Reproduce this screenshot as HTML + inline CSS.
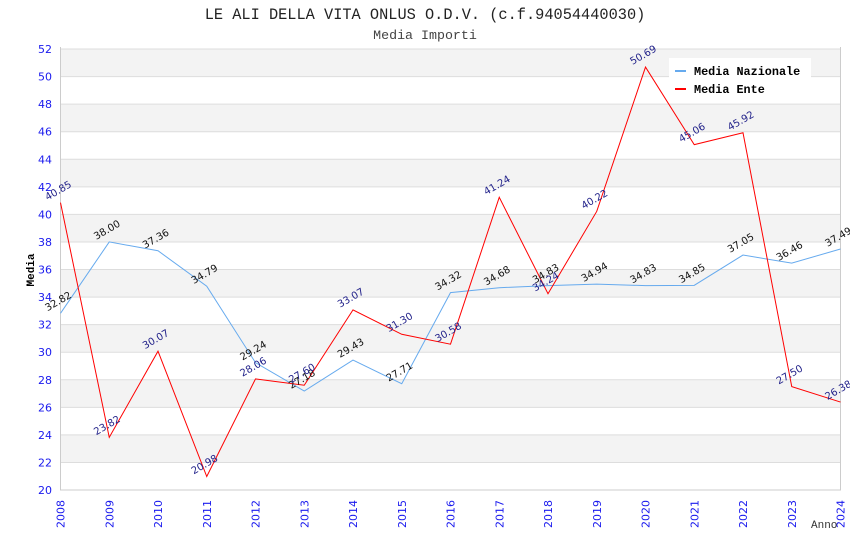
<!DOCTYPE html>
<html><head><meta charset="utf-8"><style>
body{margin:0;background:#fff;}
svg{display:block;}
</style></head><body>
<svg id="chart" width="850" height="550" xmlns="http://www.w3.org/2000/svg">
<text x="425" y="19" text-anchor="middle" font-family="Liberation Mono, monospace" font-size="15.3" fill="#222">LE ALI DELLA VITA ONLUS O.D.V. (c.f.94054440030)</text>
<text x="425" y="39" text-anchor="middle" font-family="Liberation Mono, monospace" font-size="13.3" fill="#444">Media Importi</text>
<g id="bands"></g><g id="grid"></g><g id="axes"></g><g id="series"></g><g id="labels"></g>
<text transform="translate(34,270) rotate(-90)" text-anchor="middle" font-family="Liberation Mono, monospace" font-weight="bold" font-size="11" fill="#000">Media</text>
<text x="811" y="528" font-family="Liberation Mono, monospace" font-size="11" fill="#333">Anno</text>
<g>
<rect x="669" y="58" width="142" height="42" fill="#fff"/>
<rect x="675" y="70" width="11" height="2" fill="#66aaee"/>
<text x="694" y="75" font-family="Liberation Mono, monospace" font-weight="bold" font-size="11.8" fill="#000">Media Nazionale</text>
<rect x="675" y="88" width="11" height="2" fill="#ff0000"/>
<text x="694" y="93" font-family="Liberation Mono, monospace" font-weight="bold" font-size="11.8" fill="#000">Media Ente</text>
</g>
</svg>
<script>
const years = [2008,2009,2010,2011,2012,2013,2014,2015,2016,2017,2018,2019,2020,2021,2022,2023,2024];
const nazionale = [32.82,38.00,37.36,34.79,29.24,27.18,29.43,27.71,34.32,34.68,34.83,34.94,34.83,34.85,37.05,36.46,37.49];
const ente = [40.85,23.82,30.07,20.98,28.06,27.60,33.07,31.30,30.58,41.24,34.24,40.22,50.69,45.06,45.92,27.50,26.38];
const yTicks = [20,22,24,26,28,30,32,34,36,38,40,42,44,46,48,50,52];
const NS='http://www.w3.org/2000/svg';
const L=60.5,R=840.5,T=49,B=490,yMin=20,yMax=52;
const x=i=>L+(R-L)*i/(years.length-1);
const y=v=>B-(B-T)*(v-yMin)/(yMax-yMin);
function mk(tag,attrs,parent){const e=document.createElementNS(NS,tag);for(const k in attrs)e.setAttribute(k,attrs[k]);document.getElementById(parent).appendChild(e);return e;}
for(let i=0;i<yTicks.length-1;i++){
  const top=yTicks[yTicks.length-1-i], bot=top-2;
  const r=mk('rect',{x:L,y:y(top),width:R-L,height:y(bot)-y(top),fill:i%2===0?'#f3f3f3':'#fff'},'bands');
  
  
}
yTicks.forEach(t=>{
  const l=mk('line',{x1:L,x2:R,y1:y(t),y2:y(t),stroke:'#ddd','stroke-width':1},'grid');
  
  
  const tx=mk('text',{x:52,y:y(t)+4,'text-anchor':'end','font-family':'DejaVu Sans, sans-serif','font-size':11,fill:'#1a1aee'},'axes');
  tx.textContent=t;
  
  
});
const ax=mk('path',{d:`M${L},${T-2}V${B}H${R}V${T-2}`,fill:'none',stroke:'#ccc'},'axes');


years.forEach((yr,i)=>{
  const tx=mk('text',{transform:`translate(${x(i)+4},${B+38}) rotate(-90)`,'font-family':'DejaVu Sans, sans-serif','font-size':11,fill:'#1a1aee'},'axes');
  tx.textContent=yr;
  
  
});
function series(vals,color,lblColor,name){
  const p=mk('polyline',{points:vals.map((v,i)=>x(i)+','+y(v)).join(' '),fill:'none',stroke:color,'stroke-width':1},'series');
  
  
  vals.forEach((v,i)=>{
    const t=mk('text',{transform:`translate(${x(i)-13},${y(v)-2}) rotate(-30)`,'font-family':'DejaVu Sans, sans-serif','font-size':10,fill:lblColor},'labels');
    t.textContent=v.toFixed(2);
    
    
  });
}
series(nazionale,'#66aaee','#111','nazionale');
series(ente,'#ff0000','#22228a','ente');
</script>
</body></html>
